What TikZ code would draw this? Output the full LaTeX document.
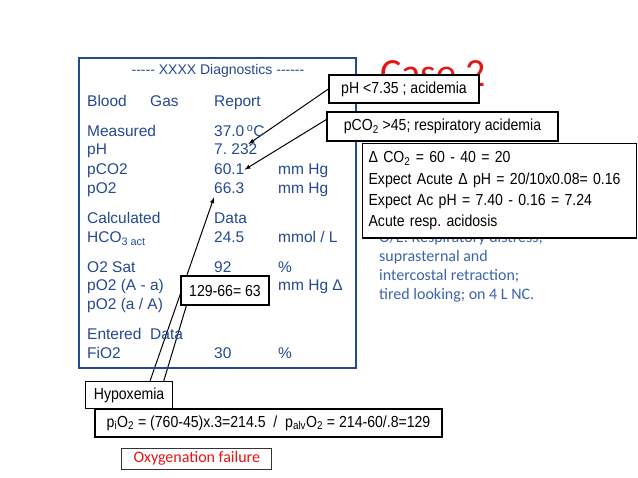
\documentclass[tikz,border=0pt]{standalone}
\usepackage{fontspec}
\setmainfont{Liberation Sans}
\newfontfamily\narrowfont[FakeStretch=0.88]{Liberation Sans}
\newfontfamily\califont{Carlito}
\usepackage{tikz}
\usetikzlibrary{arrows,positioning,backgrounds}
\definecolor{panelblue}{RGB}{36,72,145}
\definecolor{noteblue}{RGB}{60,100,170}
\definecolor{casered}{RGB}{230,20,20}
\frenchspacing
\tikzset{
        panel/.style = {anchor=base west, inner sep=0pt, text=panelblue,
            font=\fontsize{15.5}{18}\selectfont},
        note/.style = {anchor=base west, inner sep=0pt, text=noteblue,
            font=\califont\fontsize{16}{19}\selectfont},
        callout/.style = {draw, fill=white, line width=1.2pt, inner sep=0pt,
            font=\narrowfont\fontsize{16}{19}\selectfont},
        arrow/.style = {draw, -latex, line width=1pt},
        link/.style = {draw, line width=1pt},
    }

\begin{document}
\begin{tikzpicture}[x=1pt,y=-1pt]
    \useasboundingbox (0,0) rectangle (638,478);

    % report panel
    \draw[panelblue, line width=2.5pt] (79,58) rectangle (356,368);
    \node[panel, anchor=base, font=\fontsize{14}{17}\selectfont] (hdr) at (218,75)
        {-{}-{}-{}-{}- XXXX Diagnostics -{}-{}-{}-{}-{}-};

    \node[panel] (blood) at (87,107) {Blood};
    \node[panel] (gas) at (150,107) {Gas};
    \node[panel] (report) at (214,107) {Report};

    \node[panel] (meas) at (87,137) {Measured};
    \node[panel] (valtemp) at (214,137) {37.0\,\textsuperscript{o}C};
    \node[panel] (ph) at (87,155) {pH};
    \node[panel] (valph) at (214,155) {7. 232};
    \node[panel] (pco) at (87,175) {pCO2};
    \node[panel] (valpco) at (214,175) {60.1};
    \node[panel] (unitpco) at (278,175) {mm Hg};
    \node[panel] (po) at (87,194) {pO2};
    \node[panel] (valpo) at (214,194) {66.3};
    \node[panel] (unitpo) at (278,194) {mm Hg};

    \node[panel] (calc) at (87,224) {Calculated};
    \node[panel] (calcdata) at (214,224) {Data};
    \node[panel] (hco) at (87,243) {HCO\textsubscript{3 act}};
    \node[panel] (valhco) at (214,243) {24.5};
    \node[panel] (unithco) at (278,243) {mmol / L};

    \node[panel] (sat) at (87,273) {O2 Sat};
    \node[panel] (valsat) at (214,273) {92};
    \node[panel] (unitsat) at (278,273) {\%};
    \node[panel] (aa) at (87,291) {pO2 (A - a)};
    \node[panel] (unitaa) at (278,291) {mm Hg Δ};
    \node[panel] (ratio) at (87,310) {pO2 (a / A)};

    \node[panel] (entered) at (87,340) {Entered};
    \node[panel] (entdata) at (150,340) {Data};
    \node[panel] (fio) at (87,359) {FiO2};
    \node[panel] (valfio) at (214,359) {30};
    \node[panel] (unitfio) at (278,359) {\%};

    % slide text
    \node[anchor=base west, inner sep=0pt, text=casered, font=\califont\fontsize{40}{48}\selectfont] (title) at (380,87) {Case 2};
    \node[note] (oe1) at (379,243) {O/E: Respiratory distress;};
    \node[note] (oe2) at (379,262) {suprasternal and};
    \node[note] (oe3) at (379,281) {intercostal retraction;};
    \node[note] (oe4) at (379,300) {tired looking; on 4 L NC.};

    % callouts
    \node[callout, minimum width=150pt, minimum height=28pt] (phbox) at (404,89) {pH <7.35 ; acidemia};
    \node[callout, minimum width=231pt, minimum height=29pt] (pcobox) at (442.5,126.5) {pCO\textsubscript{2} >45; respiratory acidemia};
    \node[callout, anchor=north west, text width=262pt, minimum height=93pt, inner xsep=6pt, inner ysep=8pt, align=left,
        font=\narrowfont\fontsize{16}{21.3}\selectfont] (delta) at (362,143)
        {Δ CO\textsubscript{2} = 60 - 40 = 20\\
         Expect Acute Δ pH = 20/10x0.08= 0.16\\
         Expect Ac pH = 7.40 - 0.16 = 7.24\\
         Acute resp. acidosis};
    \node[callout, minimum width=88pt, minimum height=29pt] (grad) at (225,290.5) {129-66= 63};
    \node[callout, minimum width=347pt, minimum height=28pt] (pio) at (268.5,423)
        {p\textsubscript{i}O\textsubscript{2} = (760-45)x.3=214.5 \ / \ p\textsubscript{alv}O\textsubscript{2} = 214-60/.8=129};
    \node[callout, minimum width=87pt, minimum height=27pt, anchor=south west] (hypo) at (85,409) {Hypoxemia};
    \node[callout, line width=0.8pt, draw=black!80, minimum width=150pt, minimum height=21pt,
        text=casered, font=\califont\fontsize{16}{19}\selectfont,
        below right=10pt and 27pt of pio.south west] (oxy) {Oxygenation failure};

    % connectors
    \begin{pgfonlayer}{background}
        \path[arrow] (phbox.west) -- ([xshift=-9pt]valph.north east);
        \path[arrow] ([yshift=7pt]pcobox.west) -- (valpco.east);
        \path[arrow] ([xshift=21pt]hypo.north) -- ([yshift=-3pt]valpo.south west);
        \path[link] ([xshift=-113pt]pio.north) -- ([xshift=6pt]grad.south west);
    \end{pgfonlayer}
\end{tikzpicture}
\end{document}
